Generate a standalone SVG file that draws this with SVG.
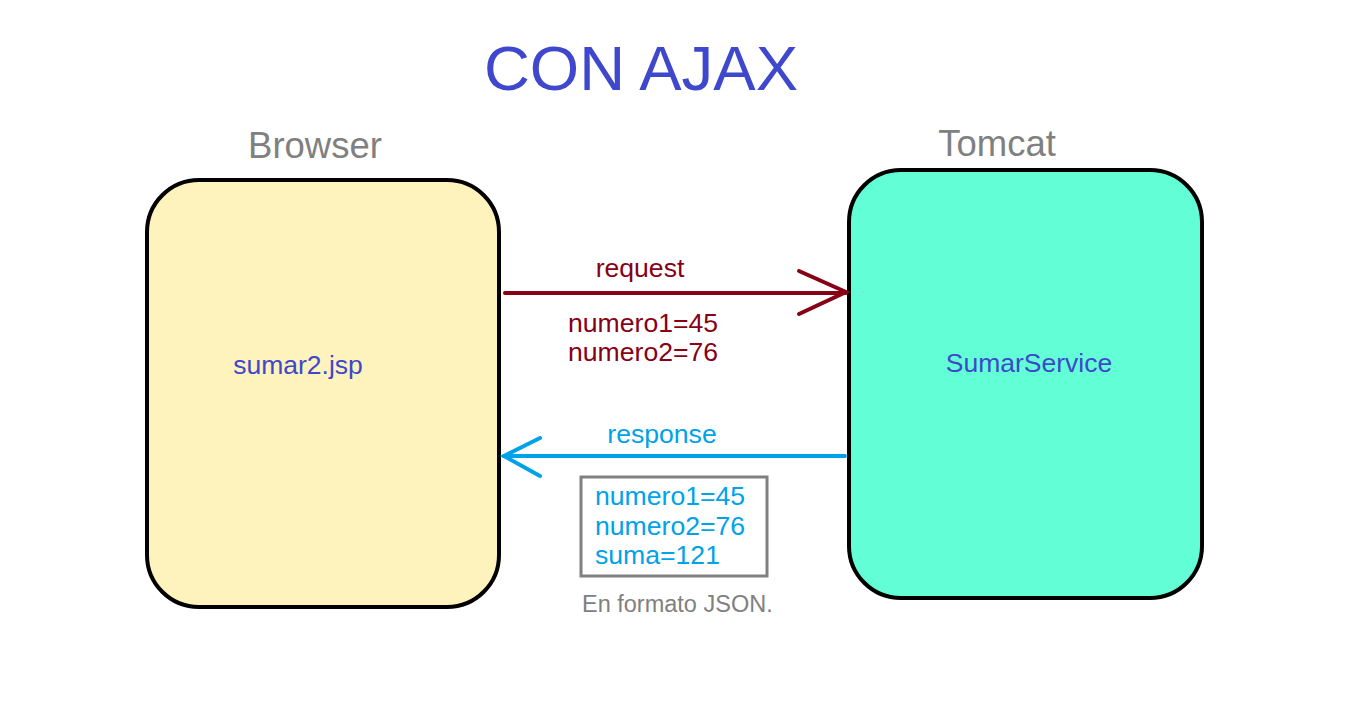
<svg xmlns="http://www.w3.org/2000/svg" width="1348" height="708" viewBox="0 0 1348 708">
<style>
text{font-family:"Liberation Sans",Arial,sans-serif}
.box{stroke:#000;stroke-width:4}
.lbl{fill:#808080;font-size:36.5px}
.name{fill:#3F48CC;font-size:26.5px}
.req{fill:#880015;font-size:26.6px}
.res{fill:#00A2E8;font-size:26.6px}
</style>
<rect width="1348" height="708" fill="#fff"/>
<text x="641" y="90" text-anchor="middle" font-size="63.5" fill="#3F48CC">CON AJAX</text>
<g id="browser">
<text class="lbl" x="315" y="158" text-anchor="middle">Browser</text>
<rect class="box" x="147" y="180" width="352" height="427" rx="52" fill="#FEF2BD"/>
<text class="name" x="298" y="374" text-anchor="middle">sumar2.jsp</text>
</g>
<g id="tomcat">
<text class="lbl" x="997" y="156" text-anchor="middle">Tomcat</text>
<rect class="box" x="849" y="170" width="353" height="428" rx="52" fill="#62FFD6"/>
<text class="name" x="1029" y="372" text-anchor="middle">SumarService</text>
</g>
<g id="connectors" fill="none" stroke-width="4" stroke-linecap="round">
<g stroke="#880015">
<line x1="505" y1="293" x2="846" y2="293"/>
<polyline points="799,271 846,292 799,314"/>
</g>
<g stroke="#00A2E8">
<line x1="845" y1="456" x2="504" y2="456"/>
<polyline points="540,438 504,456 540,476"/>
</g>
</g>
<g id="request-label">
<text class="req" x="640" y="277" text-anchor="middle">request</text>
<text class="req" x="568" y="332">numero1=45</text>
<text class="req" x="568" y="361">numero2=76</text>
</g>
<g id="response-label">
<text class="res" x="662" y="443" text-anchor="middle">response</text>
<rect x="581" y="477" width="186" height="99" fill="none" stroke="#808080" stroke-width="3"/>
<text class="res" x="595" y="505">numero1=45</text>
<text class="res" x="595" y="535">numero2=76</text>
<text class="res" x="595" y="564">suma=121</text>
<text x="582" y="612" font-size="23.5" fill="#808080">En formato JSON.</text>
</g>
</svg>
